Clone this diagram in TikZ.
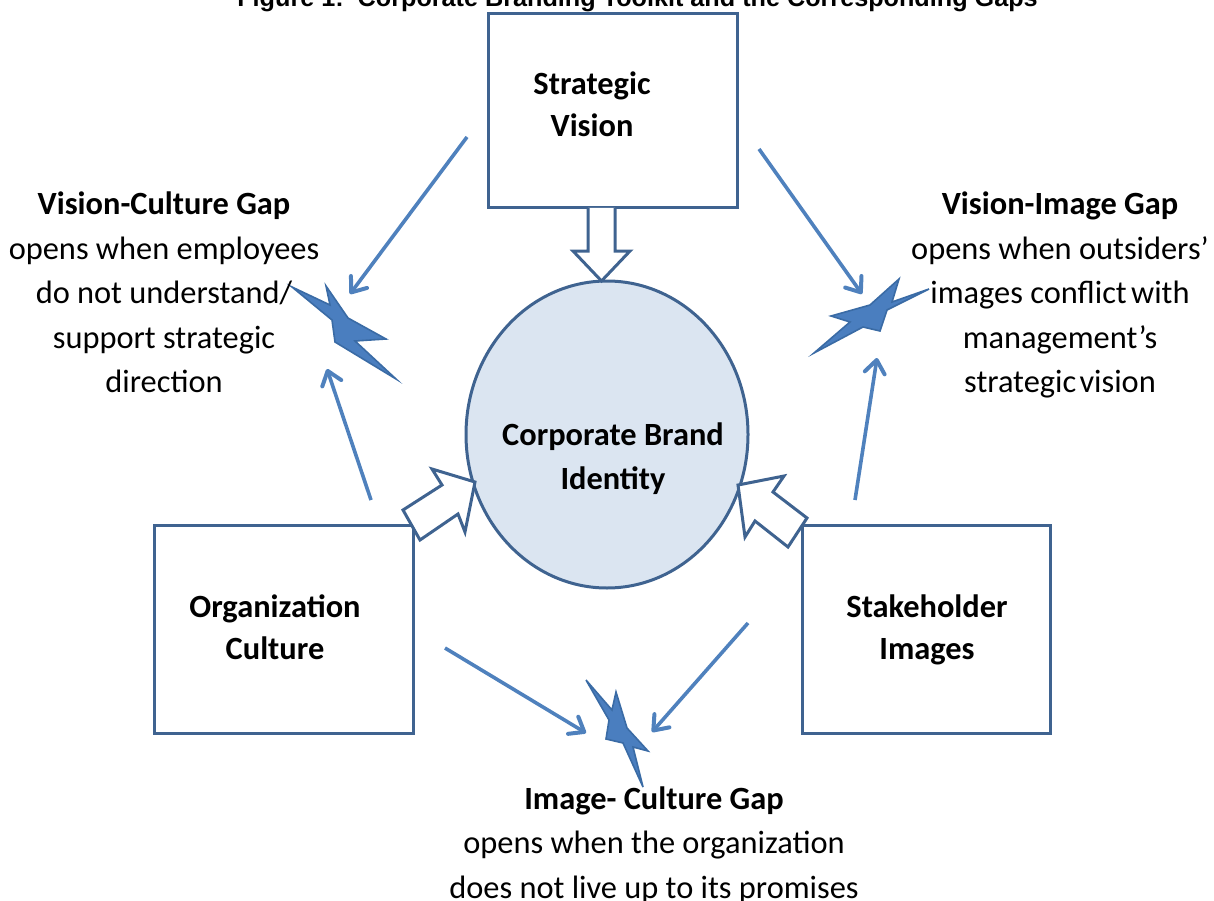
\documentclass[tikz,border=0pt]{standalone}
\usepackage{fontspec}
\setmainfont{Carlito}
\newfontfamily\titlefont{Liberation Sans}
\usetikzlibrary{arrows.meta,shapes.geometric}
\definecolor{edgeblue}{HTML}{3F6390}
\definecolor{linkblue}{HTML}{4F81BD}
\definecolor{fillblue}{HTML}{DBE5F1}
\definecolor{stardark}{HTML}{3A6BA5}
\definecolor{starfill}{HTML}{4A7EBF}
\tikzset{
  x=1pt,y=-1pt,
  box/.style={draw=edgeblue,line width=3pt,fill=white,inner sep=0pt},
  hub/.style={draw=edgeblue,line width=3pt,fill=fillblue,ellipse,inner sep=0pt},
  boldtext/.style={inner sep=0pt,font=\fontsize{32.4}{44}\selectfont\bfseries,align=center},
  boxtext/.style={inner sep=0pt,font=\fontsize{32.4}{42}\selectfont\bfseries,align=center},
  gaptext/.style={align=center,inner sep=0pt,font=\fontsize{32.4}{44.5}\selectfont},
  link/.style={draw=linkblue,line width=3.6pt,-{Straight Barb[length=13pt,width=20pt,line width=4pt,round]}},
  blockarrow/.style={draw=edgeblue,line width=3pt,fill=white,line join=miter},
  gapstar/.style={draw=stardark,line width=1.6pt,fill=starfill,line join=miter},
}
\begin{document}
\begin{tikzpicture}
\useasboundingbox (0,0) rectangle (1214,901);
\clip (0,0) rectangle (1214,901);
% title
\node[anchor=base,inner sep=0pt,font=\titlefont\bfseries\fontsize{25.2}{30}\selectfont] (title) at (637.5,7) {Figure 1:\ \ Corporate Branding Toolkit and the Corresponding Gaps};
% hub
\node[hub,minimum width=282pt,minimum height=307pt] (hub) at (607,434.5) {};
\node[boldtext] (hubtext) at (613,459) {Corporate Brand\\Identity};
% boxes
\node[box,minimum width=249pt,minimum height=194pt] (vision) at (612.5,111) {};
\node[box,minimum width=259pt,minimum height=208pt] (culture) at (283.5,629) {};
\node[box,minimum width=248pt,minimum height=208pt] (images) at (926,629) {};
\node[boxtext] (visiontext) at (592,104) {Strategic\\Vision};
\node[boxtext] (culturetext) at (275,627.5) {Organization\\Culture};
\node[boxtext] (imagestext) at (927,630) {Stakeholder\\Images};
% block arrows
\draw[blockarrow] (588,208) -- (588,251) -- (573,251) -- (601.5,281) -- (630,251) -- (615,251) -- (615,208);
\draw[blockarrow] (475,482) -- (432,469) -- (442,485) -- (403,510) -- (420,540) -- (458,514) -- (465,532) -- cycle;
\draw[blockarrow] (738,485) -- (784,476) -- (773,492) -- (807,518) -- (788,547) -- (755,521) -- (745,537) -- cycle;
% gap stars
\draw[gapstar] (292,287) -- (330,305) -- (326,286) -- (348,318) -- (386,339) -- (355,341) -- (396,379) -- (335,342) -- (332,320) -- cycle;
\draw[gapstar] (929,289) -- (892,302) -- (899,279) -- (870,305) -- (831,316) -- (850,322) -- (814,353) -- (863,327) -- (880,331) -- (887,310) -- cycle;
\draw[gapstar] (586,680) -- (612,710) -- (616,692) -- (627,728) -- (648,751) -- (633,747) -- (643,787) -- (623,743) -- (606,739) -- (609,720) -- cycle;
% link ends
\coordinate (a1) at (467,137); \coordinate (a2) at (350,294);
\coordinate (b1) at (371,500); \coordinate (b2) at (327,369);
\coordinate (c1) at (759,149); \coordinate (c2) at (862,294);
\coordinate (d1) at (855,500); \coordinate (d2) at (877,358);
\coordinate (e1) at (445,648); \coordinate (e2) at (586,733);
\coordinate (f1) at (748,623); \coordinate (f2) at (652,732);
\draw[link] (a1) -- (a2);
\draw[link] (b1) -- (b2);
\draw[link] (c1) -- (c2);
\draw[link] (d1) -- (d2);
\draw[link] (e1) -- (e2);
\draw[link] (f1) -- (f2);
% gap texts
\node[gaptext] (gapvc) at (164,292.5) {\textbf{Vision-Culture Gap}\\opens when employees\\do not understand/\\support strategic\\direction};
\node[gaptext] (gapvi) at (1060,295) {\textbf{Vision-Image Gap}\\opens when outsiders’\\images conflict\hspace{-3pt} with\\management’s\\strategic\hspace{-4pt} vision};
\node[gaptext] (gapic) at (654,845) {\textbf{Image- Culture Gap}\\opens when the organization\\does not live up to its promises};
\end{tikzpicture}
\end{document}
